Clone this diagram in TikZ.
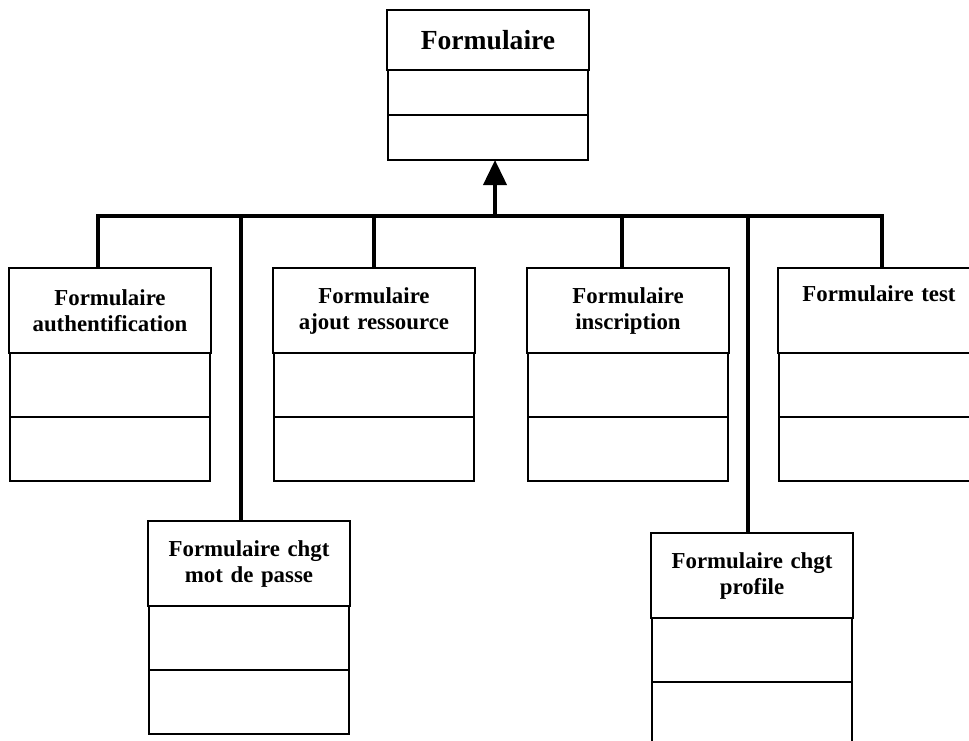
\documentclass[tikz,border=0pt]{standalone}
\usepackage{fontspec}
\setmainfont{Liberation Serif}
\usetikzlibrary{arrows.meta, positioning}

\begin{document}
\begin{tikzpicture}[
    classname/.style={rectangle, draw=black, line width=1.1pt, minimum width=4cm, minimum height=1.7cm, text width=3.8cm, align=center, anchor=north, outer sep=0pt, font=\fontsize{13}{14.8}\selectfont\bfseries},
    classpart/.style={rectangle, draw=black, line width=1.1pt, minimum width=4cm, minimum height=1.28cm, outer sep=0pt},
    link/.style={line width=2.2pt, black},
    arrow/.style={-{Triangle[length=5mm, width=4.6mm]}, link}
]
    \useasboundingbox (0,0) rectangle (19.38,-14.8);
    \clip (0,0) rectangle (19.38,-14.8);

    % Parent class
    \node[classname, minimum height=1.2cm, font=\fontsize{15.7}{18}\selectfont\bfseries] (form) at (9.76,-0.2) {Formulaire};
    \node[classpart, minimum height=0.9cm, below=0pt of form] (form-a) {};
    \node[classpart, minimum height=0.9cm, below=0pt of form-a] (form-o) {};

    % Child classes, first row
    \node[classname] (auth) at (2.2,-5.36) {Formulaire\\authentification};
    \node[classpart, below=0pt of auth] (auth-a) {};
    \node[classpart, below=0pt of auth-a] (auth-o) {};

    \node[classname] (ajout) at (7.48,-5.36) {Formulaire\\ajout ressource};
    \node[classpart, below=0pt of ajout] (ajout-a) {};
    \node[classpart, below=0pt of ajout-a] (ajout-o) {};

    \node[classname] (inscr) at (12.56,-5.36) {Formulaire\\inscription};
    \node[classpart, below=0pt of inscr] (inscr-a) {};
    \node[classpart, below=0pt of inscr-a] (inscr-o) {};

    \node[classname] (test) at (17.58,-5.36) {Formulaire test\\\strut};
    \node[classpart, below=0pt of test] (test-a) {};
    \node[classpart, below=0pt of test-a] (test-o) {};

    % Child classes, second row
    \node[classname] (mdp) at (4.98,-10.42) {Formulaire chgt\\mot de passe};
    \node[classpart, below=0pt of mdp] (mdp-a) {};
    \node[classpart, below=0pt of mdp-a] (mdp-o) {};

    \node[classname] (profil) at (15.04,-10.66) {Formulaire chgt\\profile};
    \node[classpart, below=0pt of profil] (profil-a) {};
    \node[classpart, below=0pt of profil-a] (profil-o) {};

    % Inheritance links
    \coordinate (busL) at (1.96,-4.32);
    \coordinate (busR) at (17.64,-4.32);
    \coordinate (hub) at (9.9,-4.32);
    \coordinate (dropM) at (4.82,-4.32);
    \coordinate (dropP) at (14.96,-4.32);
    \coordinate (dropI) at (12.44,-4.32);

    \draw[arrow] (hub) -- (hub |- form-o.south);
    \draw[link] (auth.north -| busL) -- (busL) -- (busR) -- (busR |- test.north);
    \draw[link] (ajout.north) -- (ajout.north |- busL);
    \draw[link] (dropI) -- (dropI |- inscr.north);
    \draw[link] (dropM) -- (dropM |- mdp.north);
    \draw[link] (dropP) -- (dropP |- profil.north);
\end{tikzpicture}
\end{document}
